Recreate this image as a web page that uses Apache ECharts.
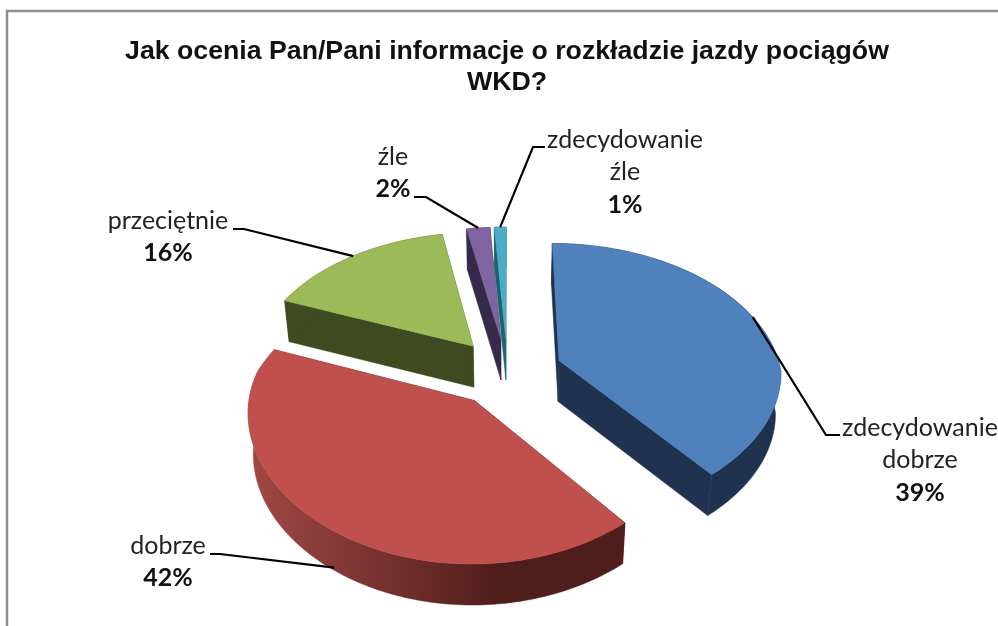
<!DOCTYPE html>
<html><head><meta charset="utf-8">
<style>html,body{margin:0;padding:0;background:#fff}#c{width:998px;height:626px}</style>
<script src="https://cdn.jsdelivr.net/npm/echarts@6/dist/echarts.min.js"></script>
</head><body><div id="c"></div>
<script>
const titleText = 'Jak ocenia Pan/Pani informacje o rozkładzie jazdy pociągów\nWKD?';
const categories = ['zdecydowanie dobrze', 'dobrze', 'przeciętnie', 'źle', 'zdecydowanie źle'];
const shares = [39, 42, 16, 2, 1];
const topColors = ['#4f81bd', '#c0504d', '#9bbb59', '#8064a2', '#4bacc6'];
const wallColors = ['#1f3350', '#4f1d1b', '#3f4a20', '#352a4a', '#1e6272'];

// layout: label centre and leader-line knee for each slice
const labelCentre = [[920, 460], [168, 562], [168, 237], [393, 173], [625, 172]];
const leaderKnee = [[[826, 435], [840, 435]], [[220, 554], [210, 554]], [[244, 229], [233, 229]], [[426, 197], [414, 197]], [[533, 147], [545, 147]]];

// 3D view of the pie
const view = { cx: 507.5, cy: 372, a: 222, b: 138, explode: 0.25, depth: 41, conv: 0.02 };
function project(X, Y) {
  const wx = 1 - (Y < 0 ? 0.152 : 0.075) * Y;
  const wy = 1 - (Y < 0 ? 0.152 : 0.113) * Y;
  return [view.cx + view.a * X / wx, view.cy + view.b * Y / wy];
}
function lower(p, d) {
  const q = d === undefined ? view.depth : d;
  return [view.cx + (p[0] - view.cx) * (1 - view.conv * q / view.depth), p[1] + q];
}
const total = shares.reduce((s, v) => s + v, 0);
function sliceGeometry(index) {
  let before = 0;
  for (let i = 0; i < index; i++) before += shares[i];
  const t0 = before / total * 2 * Math.PI;
  const t1 = (before + shares[index]) / total * 2 * Math.PI;
  const tm = (t0 + t1) / 2;
  const ox = Math.sin(tm) * view.explode, oy = -Math.cos(tm) * view.explode;
  const rim = t => project(ox + Math.sin(t), oy - Math.cos(t));
  const apex = project(ox, oy);
  const arc = [];
  const n = Math.max(4, Math.ceil((t1 - t0) / 0.02));
  for (let i = 0; i <= n; i++) arc.push(rim(t0 + (t1 - t0) * i / n));
  return { apex, arc, mid: rim(tm) };
}

function renderSlice(params, api) {
  const i = params.dataIndex;
  const g = sliceGeometry(i);
  const wall = wallColors[i];
  const quad = (a, b) => [a, b, lower(b), lower(a)];
  const arcLow = g.arc.map(p => lower(p)).reverse();
  const outerFill = i === 1
    ? new echarts.graphic.LinearGradient(248, 0, 500, 0, [
        { offset: 0, color: '#a24844' }, { offset: 1, color: '#4f1d1b' }], true)
    : wall;
  const poly = (points, fill) => ({ type: 'polygon', shape: { points }, style: { fill, stroke: fill, lineWidth: 0.5 } });
  const children = [
    poly(quad(g.apex, g.arc[0]), wall),
    poly(quad(g.apex, g.arc[g.arc.length - 1]), wall),
    poly(g.arc.concat(arcLow), outerFill),
    poly([g.apex].concat(g.arc), topColors[i])
  ];
  return { type: 'group', children };
}

function renderLabel(params, api) {
  const i = params.dataIndex;
  const g = sliceGeometry(i);
  const end = i === 1 ? lower(g.mid, 38) : g.mid;
  const pct = api.value(0) + '%';
  const words = categories[i].split(' ').map(w => '{n|' + w + '}');
  return { type: 'group', children: [
    { type: 'polyline', shape: { points: [leaderKnee[i][1], leaderKnee[i][0], end] },
      style: { fill: null, stroke: '#000', lineWidth: 2.2 } },
    { type: 'text', style: {
        x: labelCentre[i][0], y: labelCentre[i][1],
        text: words.concat('{p|' + pct + '}').join('\n'),
        align: 'center', verticalAlign: 'middle',
        rich: {
          n: { fontFamily: 'Lato', fontSize: 25, lineHeight: 32.5, fill: '#222', color: '#222', align: 'center' },
          p: { fontFamily: 'Lato', fontSize: 25, fontWeight: 'bold', lineHeight: 32.5, fill: '#111', color: '#111', align: 'center' }
        } } }
  ] };
}

const chart = echarts.init(document.getElementById('c'), null, { renderer: 'canvas' });
chart.setOption({
  animation: false,
  backgroundColor: '#fff',
  title: { text: titleText, left: 502, top: 31, textAlign: 'center',
    textStyle: { fontFamily: 'Liberation Sans', fontSize: 26.7, fontWeight: 'bold', color: '#111', lineHeight: 31 } },
  graphic: [
    { type: 'polyline', shape: { points: [[7, 626], [7, 11], [998, 11]] }, style: { fill: null, stroke: '#8e8e8e', lineWidth: 2.5 } }
  ],
  series: [
    { type: 'custom', coordinateSystem: 'none', silent: true, renderItem: renderSlice, z: 2,
      data: shares.map((v, i) => ({ value: [v], name: categories[i] })) },
    { type: 'custom', coordinateSystem: 'none', silent: true, renderItem: renderLabel, z: 3,
      data: shares.map((v, i) => ({ value: [v], name: categories[i] })) }
  ]
});
</script></body></html>
